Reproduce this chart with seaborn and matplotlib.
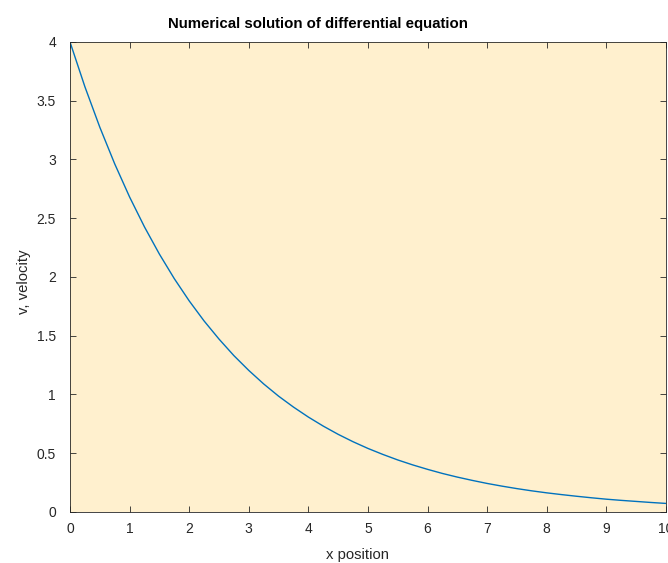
import numpy as np
import pandas as pd
import matplotlib
matplotlib.use("Agg")
import matplotlib.pyplot as plt
import seaborn as sns

## data (x step 0.25)
x_pos = [i * 0.25 for i in range(41)]
velocity = [4.000, 3.619, 3.275, 2.963, 2.681, 2.426, 2.195, 1.986, 1.797, 1.626,
            1.472, 1.331, 1.205, 1.090, 0.986, 0.893, 0.808, 0.731, 0.661, 0.598,
            0.541, 0.490, 0.443, 0.401, 0.363, 0.328, 0.297, 0.269, 0.243, 0.220,
            0.199, 0.180, 0.163, 0.148, 0.134, 0.121, 0.109, 0.099, 0.090, 0.081,
            0.073]
x_ticks = list(range(11))
y_ticks = [0, 0.5, 1, 1.5, 2, 2.5, 3, 3.5, 4]
y_tick_labels = ["0", "0.5", "1", "1.5", "2", "2.5", "3", "3.5", "4"]

df = pd.DataFrame({"x": x_pos, "v": velocity})

sns.set_style("ticks")
plt.rcParams["font.family"] = ["Liberation Sans", "DejaVu Sans"]

fig = plt.figure(figsize=(6.68, 5.63), dpi=100)
ax = fig.add_axes([0.1048, 0.0906, 0.892, 0.8348])
ax.set_facecolor("#FFF0CE")

sns.lineplot(data=df, x="x", y="v", ax=ax, color="#0072BD", linewidth=1.0)

ax.set_xlim(0, 10)
ax.set_ylim(0, 4)
ax.set_xticks(x_ticks)
ax.set_yticks(y_ticks)
ax.set_yticklabels(y_tick_labels)

ax.tick_params(direction="in", length=4.3, width=0.6, colors="#262626",
               labelsize=10, top=True, right=True)
ax.tick_params(axis="x", pad=7)
ax.tick_params(axis="y", pad=10)
for s in ax.spines.values():
    s.set_color("#262626")
    s.set_linewidth(0.6)
    s.set_visible(True)

ax.set_xlabel("x position", fontsize=10.7, color="#262626")
ax.xaxis.set_label_coords(0.482, -0.076)
ax.set_ylabel("v, velocity", fontsize=10.7, color="#262626")
ax.yaxis.set_label_coords(-0.065, 0.49)

fig.text(318 / 668, 1 - 24 / 563, "Numerical solution of differential equation",
         fontsize=10.8, fontweight="bold", color="black", ha="center", va="center")

fig.savefig("out.png", dpi=100)
